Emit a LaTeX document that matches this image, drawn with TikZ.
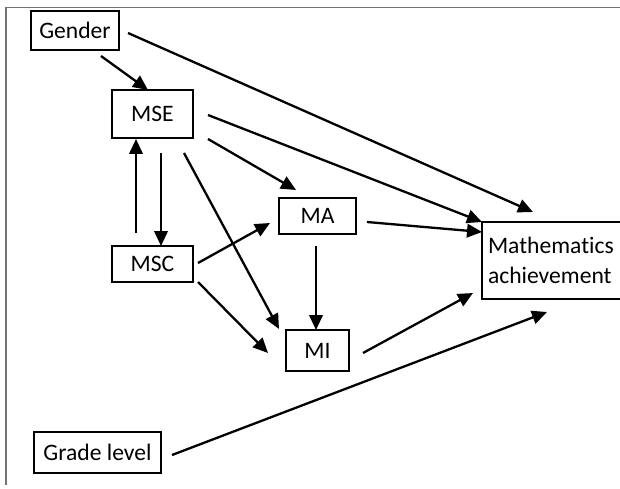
\documentclass[tikz,border=0pt]{standalone}
\usepackage{fontspec}
\setmainfont{Carlito}[Ligatures=NoCommon]
\usetikzlibrary{arrows.meta,calc}
\begin{document}
\begin{tikzpicture}[x=1pt,y=-1pt,
  box/.style={draw,line width=1.5pt,inner sep=0pt,align=left,
    font=\fontsize{23.6}{30}\selectfont},
  arr/.style={line width=2.3pt,-{Triangle[length=15pt,width=13.5pt]}},
  frameline/.style={draw=black!55,line width=1.6pt}]
\useasboundingbox (0,0) rectangle (620,489);
% open frame: top and left edges only
\coordinate (ftl) at (6,7.5);
\coordinate (ftr) at (620,7.5);
\coordinate (fbl) at (6,485);
\draw[frameline] (ftr) -- (ftl) -- (fbl);

% variables
\node[box,minimum width=88pt,minimum height=39pt] (gender) at (75,30.5) {Gender};
\node[box,minimum width=81pt,minimum height=48pt] (mse) at (152.5,114) {MSE};
\node[box,minimum width=81pt,minimum height=36pt] (msc) at (152.5,264) {MSC};
\node[box,minimum width=77pt,minimum height=36pt] (ma) at (317.5,216) {MA};
\node[box,minimum width=63pt,minimum height=41pt] (mi) at (317.5,350.5) {MI};
\node[box,minimum width=127pt,minimum height=41pt] (grade) at (97.5,452.5) {Grade level};
\node[box,minimum width=142pt,minimum height=77pt,text width=130pt] (math) at (553,260.5) {Mathematics\\achievement};

% paths
\draw[arr] ($(gender)+(26,25.5)$) -- ($(mse)+(-4.5,-24)$);
\draw[arr] ($(gender)+(53,2.5)$) -- ($(math)+(-20,-48.5)$);
\draw[arr] ($(mse)+(55.5,1)$) -- ($(math)+(-71,-38.5)$);
\draw[arr] ($(mse)+(55.5,25)$) -- ($(ma)+(-21.5,-26)$);
\draw[arr] ($(mse)+(31.5,39)$) -- ($(mi)+(-38.5,-21.5)$);
\draw[arr] ($(msc)+(-16.5,-31)$) -- ($(mse)+(-16.5,25)$);
\draw[arr] ($(mse)+(8.5,39)$) -- ($(msc)+(8.5,-18)$);
\draw[arr] ($(msc)+(45.5,-1)$) -- ($(ma)+(-47.5,7)$);
\draw[arr] ($(msc)+(45.5,18)$) -- ($(mi)+(-49.5,2.5)$);
\draw[arr] ($(ma)+(49.5,6)$) -- ($(math)+(-71,-28.5)$);
\draw[arr] ($(ma)+(-1.5,30)$) -- ($(mi)+(-1.5,-20.5)$);
\draw[arr] ($(mi)+(45.5,2.5)$) -- ($(math)+(-80,32.5)$);
\draw[arr] ($(grade)+(74.5,2.5)$) -- ($(math)+(-6,51.5)$);
\end{tikzpicture}
\end{document}
